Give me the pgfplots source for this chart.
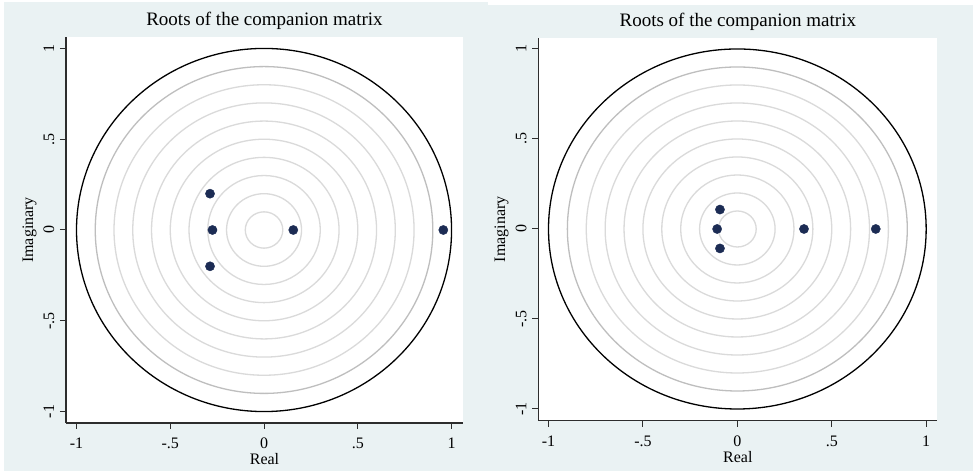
\documentclass[border=0pt]{standalone}
\usepackage{pgfplots}
\pgfplotsset{compat=1.18}
\usepackage{fontspec}
\setmainfont{Liberation Serif}
\definecolor{bgc}{RGB}{234,242,243}
\definecolor{mk}{RGB}{28,44,84}
\definecolor{axc}{RGB}{45,45,45}
\definecolor{gl}{RGB}{218,218,218}
\definecolor{gd}{RGB}{190,190,190}
\pgfplotsset{
  rootstyle/.style={
    scale only axis,
    axis lines*=left,
    axis line style={draw=axc, line width=1.1pt, -},
    axis background/.style={fill=white},
    tick align=outside,
    major tick length=6pt,
    tick style={draw=axc, line width=1pt},
    xtick={-1,-0.5,0,0.5,1},
    xticklabels={-1,-.5,0,.5,1},
    ytick={-1,-0.5,0,0.5,1},
    yticklabels={-1,-.5,0,.5,1},
    ticklabel style={font=\fontsize{16}{16}\selectfont, inner sep=0pt},
    xticklabel style={anchor=base},
    title={Roots of the companion matrix},
    title style={font=\fontsize{19}{19}\selectfont, at={(axis description cs:0.5,1)}, anchor=base, inner sep=0pt, yshift=5pt},
    xlabel={Real},
    ylabel={Imaginary},
    label style={font=\fontsize{16}{16}\selectfont, inner sep=0pt},
    clip=false,
  }
}
\begin{document}
\begin{tikzpicture}
\useasboundingbox (0pt,0pt) rectangle (973pt,473pt);
\fill[white] (0pt,0pt) rectangle (973pt,473pt);
\fill[bgc] (4pt,2pt) rectangle (488pt,471pt);
\fill[bgc] (488pt,2pt) rectangle (973pt,468pt);
% ---------- left panel ----------
\begin{axis}[rootstyle,
  at={(66pt,50pt)}, anchor=south west,
  width=397pt, height=386pt,
  xmin=-1.056, xmax=1.061, ymin=-1.063, ymax=1.063,
  xticklabel style={yshift=-20pt},
  yticklabel style={xshift=-6pt, rotate=90, anchor=base},
  xlabel style={at={(axis description cs:0.5,0)}, anchor=base, yshift=-42pt},
  ylabel style={at={(axis description cs:-0.083,0.5)}, anchor=base, rotate=0},
]
\draw[gl, line width=1.3pt] (axis cs:0,0) ellipse [x radius=0.1, y radius=0.1];
\draw[gl, line width=1.3pt] (axis cs:0,0) ellipse [x radius=0.2, y radius=0.2];
\draw[gl, line width=1.3pt] (axis cs:0,0) ellipse [x radius=0.3, y radius=0.3];
\draw[gl, line width=1.3pt] (axis cs:0,0) ellipse [x radius=0.4, y radius=0.4];
\draw[gl, line width=1.3pt] (axis cs:0,0) ellipse [x radius=0.5, y radius=0.5];
\draw[gl, line width=1.3pt] (axis cs:0,0) ellipse [x radius=0.6, y radius=0.6];
\draw[gl, line width=1.3pt] (axis cs:0,0) ellipse [x radius=0.7, y radius=0.7];
\draw[gl, line width=1.3pt] (axis cs:0,0) ellipse [x radius=0.8, y radius=0.8];
\draw[gd, line width=1.3pt] (axis cs:0,0) ellipse [x radius=0.9, y radius=0.9];
\draw[black, line width=1.3pt] (axis cs:0,0) ellipse [x radius=1, y radius=1];
\addplot[only marks, mark=*, mark size=4.6pt, mark options={fill=mk, draw=mk}] coordinates {
  (-0.288,0.200) (-0.275,0) (-0.288,-0.200) (0.156,0) (0.956,0)
};
\end{axis}
% ---------- right panel ----------
\begin{axis}[rootstyle,
  at={(538.3pt,52.3pt)}, anchor=south west,
  width=399pt, height=382.7pt,
  xmin=-1.054, xmax=1.059, ymin=-1.065, ymax=1.061,
  xticklabel style={yshift=-19.3pt},
  yticklabel style={xshift=-6pt, rotate=90, anchor=base},
  xlabel style={at={(axis description cs:0.5,0)}, anchor=base, yshift=-41.3pt},
  ylabel style={at={(axis description cs:-0.083,0.5)}, anchor=base, rotate=0},
]
\draw[gl, line width=1.3pt] (axis cs:0,0) ellipse [x radius=0.1, y radius=0.1];
\draw[gl, line width=1.3pt] (axis cs:0,0) ellipse [x radius=0.2, y radius=0.2];
\draw[gl, line width=1.3pt] (axis cs:0,0) ellipse [x radius=0.3, y radius=0.3];
\draw[gl, line width=1.3pt] (axis cs:0,0) ellipse [x radius=0.4, y radius=0.4];
\draw[gl, line width=1.3pt] (axis cs:0,0) ellipse [x radius=0.5, y radius=0.5];
\draw[gl, line width=1.3pt] (axis cs:0,0) ellipse [x radius=0.6, y radius=0.6];
\draw[gl, line width=1.3pt] (axis cs:0,0) ellipse [x radius=0.7, y radius=0.7];
\draw[gl, line width=1.3pt] (axis cs:0,0) ellipse [x radius=0.8, y radius=0.8];
\draw[gd, line width=1.3pt] (axis cs:0,0) ellipse [x radius=0.9, y radius=0.9];
\draw[black, line width=1.3pt] (axis cs:0,0) ellipse [x radius=1, y radius=1];
\addplot[only marks, mark=*, mark size=4.6pt, mark options={fill=mk, draw=mk}] coordinates {
  (-0.092,0.108) (-0.107,0) (-0.092,-0.108) (0.353,0) (0.733,0)
};
\end{axis}
\end{tikzpicture}
\end{document}
